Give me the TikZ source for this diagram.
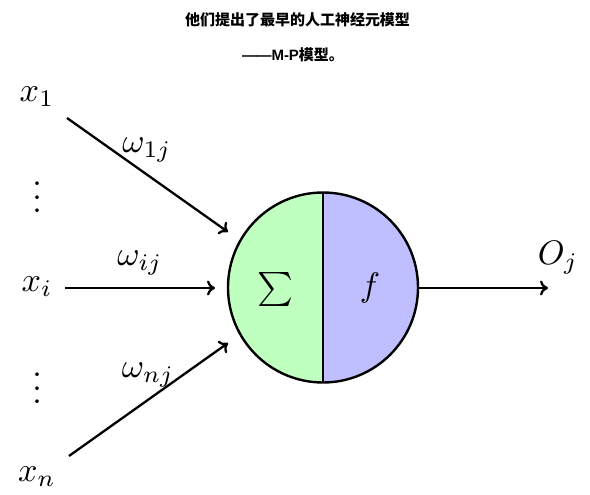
\documentclass[tikz,border=0pt]{standalone}
\usepackage{fontspec}
\newfontfamily\cjk{Noto Sans CJK SC}
\newfontfamily\lat{Liberation Sans}
\usetikzlibrary{arrows.meta}
\begin{document}
\begin{tikzpicture}[x=1pt,y=-1pt, line width=2.4pt,
  lab/.style={inner sep=0pt},
  arr/.style={-{To[length=8pt,width=15pt]}, line width=2.3pt},
  ttl/.style={font=\cjk\bfseries\fontsize{15}{18}\selectfont, inner sep=0pt}]
\useasboundingbox (0,0) rectangle (590,495);
% titles
\node[ttl] (t1) at (297.5,20) {他们提出了最早的人工神经元模型};
\node[ttl] (t2) at (293,55) {{\lat\bfseries \char"2014\kern-0.5pt\char"2014 M-P}模型。};
% neuron
\coordinate (c) at (323,287.5);
\coordinate (top) at (323,192.5);
\coordinate (bot) at (323,382.5);
\begin{scope}
  \clip (c) circle[radius=95pt];
  \fill[green!25] (218,180) rectangle (323,395);
  \fill[blue!25] (323,180) rectangle (428,395);
\end{scope}
\draw (top) -- (bot);
\draw (c) circle[radius=95pt];
\node[lab] (sig) at (275,289) {\scalebox{3.4}{$\sum$}};
\node[lab] (f) at (370,288) {\scalebox{3.4}{$f$}};
% inputs
\node[lab] (x1) at (37,97) {\scalebox{3.4}{$x_1$}};
\node[lab] (xi) at (37,287) {\scalebox{3.4}{$x_i$}};
\node[lab] (xn) at (37,477) {\scalebox{3.4}{$x_n$}};
\node[lab] (d1) at (37,187) {\scalebox{3.4}{$\vdots$}};
\node[lab] (d2) at (37,378) {\scalebox{3.4}{$\vdots$}};
\node[lab] (w1) at (147,150) {\scalebox{3.4}{$\omega_{1j}$}};
\node[lab] (wi) at (140,263) {\scalebox{3.4}{$\omega_{ij}$}};
\node[lab] (wn) at (148,375) {\scalebox{3.4}{$\omega_{nj}$}};
\node[lab] (oj) at (558,258) {\scalebox{3.4}{$O_j$}};
% connector points
\coordinate (s1) at (67,118);
\coordinate (e1) at (228,232);
\coordinate (si) at (65,288);
\coordinate (ei) at (215,288);
\coordinate (sn) at (69,456);
\coordinate (en) at (228,343);
\coordinate (so) at (418,288);
\coordinate (eo) at (548,288);
\draw[arr] (s1) -- (e1);
\draw[arr] (si) -- (ei);
\draw[arr] (sn) -- (en);
\draw[arr] (so) -- (eo);
\end{tikzpicture}
\end{document}
